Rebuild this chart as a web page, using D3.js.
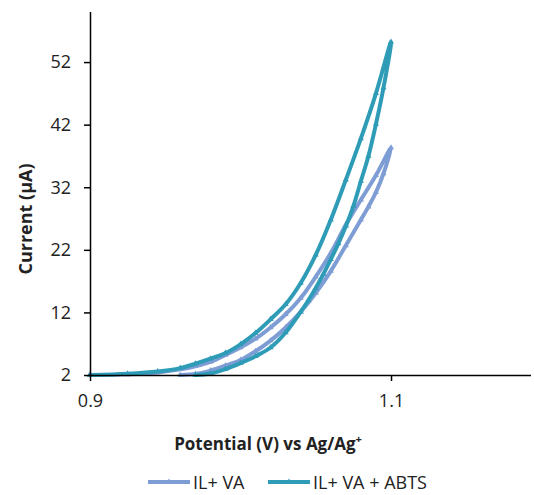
<!DOCTYPE html>
<html>
<head>
<meta charset="utf-8">
<script src="https://cdn.jsdelivr.net/npm/d3@7"></script>
<style>
  body { margin: 0; background: #fff; }
  svg { font-family: "Open Sans", "Noto Sans", sans-serif; }
</style>
</head>
<body>
<svg id="chart" width="534" height="495"></svg>
<script>
// tick labels
var xTicks = [0.9, 1.1];
var yTicks = [2, 12, 22, 32, 42, 52];

// IL+ VA : forward scan then reverse scan (potential V, current uA)
var vaPotential = [0.960, 0.970, 0.980, 0.990, 1.000, 1.010, 1.020, 1.030, 1.040, 1.050, 1.060, 1.070, 1.080, 1.085, 1.090, 1.095, 1.100,
                   1.090, 1.080, 1.070, 1.060, 1.050, 1.040, 1.030, 1.020, 1.010, 1.000, 0.990, 0.980, 0.970, 0.960, 0.945, 0.925, 0.900];
var vaCurrent   = [2.0, 2.15, 2.7, 3.5, 4.4, 5.8, 7.5, 9.6, 12.1, 15.1, 18.6, 22.7, 26.8, 28.9, 31.2, 34.2, 38.3,
                   33.9, 30.0, 26.0, 21.5, 17.7, 14.3, 11.7, 9.6, 7.8, 6.4, 5.2, 4.1, 3.4, 2.9, 2.4, 2.1, 2.0];

// IL+ VA + ABTS
var abtsPotential = [0.970, 0.980, 0.990, 1.000, 1.010, 1.020, 1.030, 1.040, 1.045, 1.050, 1.055, 1.060, 1.065, 1.070, 1.075, 1.080, 1.085, 1.090, 1.095, 1.100,
                     1.090, 1.080, 1.070, 1.060, 1.050, 1.040, 1.030, 1.020, 1.010, 1.000, 0.990, 0.980, 0.970, 0.960, 0.945, 0.925, 0.900];
var abtsCurrent   = [2.0, 2.25, 2.95, 3.9, 5.0, 6.4, 8.8, 12.1, 13.9, 15.9, 18.1, 20.5, 23.0, 25.8, 29.0, 33.0, 37.0, 42.1, 47.9, 55.2,
                     47.0, 39.8, 33.2, 26.8, 21.2, 16.7, 13.3, 10.9, 8.7, 6.9, 5.5, 4.6, 3.8, 3.1, 2.55, 2.2, 2.0];

var seriesNames = ['IL+ VA', 'IL+ VA + ABTS'];
var seriesColors = ['#7f9dd5', '#2f9cb7'];

var svg = d3.select('#chart');
var x = d3.scaleLinear().domain([0.9, 1.193]).range([90, 531]);
var y = d3.scaleLinear().domain([2, 60]).range([375, 12]);

var series = [
  { name: seriesNames[0], color: seriesColors[0], pts: vaPotential.map(function (v, i) { return [v, vaCurrent[i]]; }) },
  { name: seriesNames[1], color: seriesColors[1], pts: abtsPotential.map(function (v, i) { return [v, abtsCurrent[i]]; }) }
];

var line = d3.line()
  .x(function (d) { return x(d[0]); })
  .y(function (d) { return y(d[1]); })
  .curve(d3.curveCatmullRom.alpha(0.5));

// series lines + small markers
var plot = svg.append('g');
series.forEach(function (s) {
  plot.append('path')
    .attr('d', line(s.pts))
    .attr('fill', 'none')
    .attr('stroke', s.color)
    .attr('stroke-width', 4)
    .attr('stroke-linejoin', 'round')
    .attr('stroke-linecap', 'round');
  plot.selectAll(null)
    .data(s.pts)
    .enter()
    .append('path')
    .attr('d', d3.symbol().type(d3.symbolTriangle).size(16))
    .attr('transform', function (d) { return 'translate(' + x(d[0]) + ',' + y(d[1]) + ')'; })
    .attr('fill', s.color);
});

// axes
var xAxis = svg.append('g')
  .attr('transform', 'translate(0,375)')
  .call(d3.axisBottom(x).tickValues(xTicks).tickSize(6).tickPadding(13).tickFormat(d3.format('.1f')));
var yAxis = svg.append('g')
  .attr('transform', 'translate(90,0)')
  .call(d3.axisLeft(y).tickValues(yTicks).tickSize(6).tickPadding(13));

[xAxis, yAxis].forEach(function (a) {
  a.selectAll('.tick line').attr('stroke', '#000').attr('stroke-width', 1.5);
  a.selectAll('.tick text').attr('font-size', 18).attr('fill', '#222').attr('font-family', '"Open Sans", sans-serif');
});
xAxis.select('.domain').attr('d', 'M90,0.5H531').attr('stroke', '#000').attr('stroke-width', 1.5);
yAxis.select('.domain').attr('d', 'M0.5,12V375').attr('stroke', '#000').attr('stroke-width', 1.5);

// axis titles
svg.append('text')
  .attr('x', 268).attr('y', 450)
  .attr('text-anchor', 'middle')
  .attr('font-size', 17).attr('font-weight', 'bold').attr('fill', '#222')
  .text('Potential (V) vs Ag/Ag')
  .append('tspan').attr('baseline-shift', 'super').attr('font-size', 11).text('+');

svg.append('text')
  .attr('transform', 'translate(32,219) rotate(-90)')
  .attr('text-anchor', 'middle')
  .attr('font-size', 18).attr('font-weight', 'bold').attr('fill', '#222')
  .text('Current (μA)');

// legend
var legendX = [148, 268];
var legend = svg.append('g');
series.forEach(function (s, i) {
  var lx = legendX[i];
  legend.append('line')
    .attr('x1', lx).attr('x2', lx + 42).attr('y1', 482).attr('y2', 482)
    .attr('stroke', s.color).attr('stroke-width', 4);
  legend.append('path')
    .attr('d', d3.symbol().type(d3.symbolTriangle).size(16))
    .attr('transform', 'translate(' + (lx + 21) + ',482)')
    .attr('fill', s.color);
  legend.append('text')
    .attr('x', lx + 45).attr('y', 489)
    .attr('font-size', 18).attr('fill', '#222')
    .text(s.name);
});
</script>
</body>
</html>
